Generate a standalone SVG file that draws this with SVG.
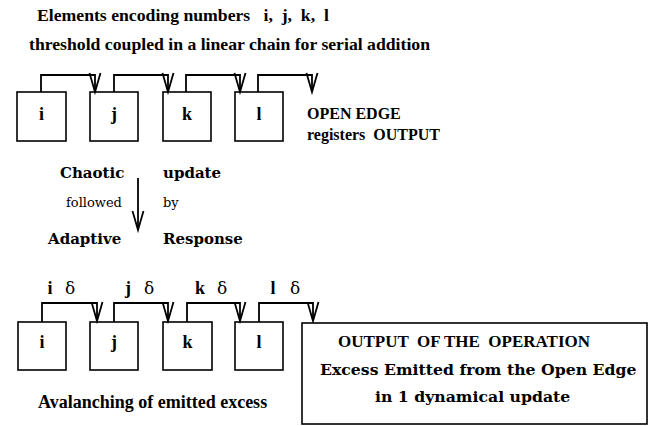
<svg xmlns="http://www.w3.org/2000/svg" width="654" height="426" viewBox="0 0 654 426">
<style>
text{white-space:pre}
.box{fill:#fff;stroke:#000;stroke-width:1.6}
.c{fill:none;stroke:#000;stroke-width:1.8;marker-end:url(#v)}
.t{font-family:"Liberation Serif","Times New Roman",serif;font-weight:bold;font-size:17.7px;fill:#000}
.cb{font-family:"DejaVu Serif",serif;font-weight:bold;font-size:15px;fill:#000}
.cr{font-family:"DejaVu Serif",serif;font-size:13px;fill:#000}
.lbl{font-family:"Liberation Serif","Times New Roman",serif;font-weight:bold;font-size:18px;fill:#000;text-anchor:middle}
.d{font-family:"DejaVu Serif",serif;font-size:17px;fill:#000;text-anchor:middle}
</style>
<defs>
<marker id="v" markerUnits="userSpaceOnUse" markerWidth="30" markerHeight="30" refX="0" refY="0" orient="auto" overflow="visible" viewBox="-20 -10 30 20">
<path d="M-19,-5.5 L0,0 L-19,5.5" fill="none" stroke="#000" stroke-width="1.8"/>
</marker>
</defs>
<g id="titles">
<text class="t" x="37" y="21" xml:space="preserve">Elements encoding numbers   i,  j,  k,  l</text>
<text class="t" x="29" y="50">threshold coupled in a linear chain for serial addition</text>
</g>
<g id="top-i"><rect class="box" x="17" y="92" width="49" height="49"/><text class="lbl" x="41.5" y="120">i</text></g>
<g id="top-j"><rect class="box" x="90" y="92" width="48" height="49"/><text class="lbl" x="114" y="120">j</text></g>
<g id="top-k"><rect class="box" x="163" y="92" width="48" height="49"/><text class="lbl" x="187" y="120">k</text></g>
<g id="top-l"><rect class="box" x="235" y="92" width="48" height="49"/><text class="lbl" x="259" y="120">l</text></g>
<g id="open-edge">
<text class="t" x="307" y="119" style="font-size:16px">OPEN EDGE</text>
<text class="t" x="307" y="140" style="font-size:16px" xml:space="preserve">registers  OUTPUT</text>
</g>
<g id="top-connectors">
<path class="c" d="M41,92 V75 H95 V92"/>
<path class="c" d="M114,92 V75 H168 V92"/>
<path class="c" d="M186,92 V75 H240 V92"/>
<path class="c" d="M258,92 V75 H312 V92"/>
</g>
<g id="update">
<text class="cb" x="60" y="178">Chaotic</text>
<text class="cb" x="163" y="178">update</text>
<text class="cr" x="66" y="207">followed</text>
<text class="cr" x="163" y="207">by</text>
<text class="cb" x="48" y="244">Adaptive</text>
<text class="cb" x="163" y="244">Response</text>
<path class="c" d="M138,178 V230"/>
</g>
<g id="delta-labels">
<text class="lbl" x="50" y="294">i</text><text class="d" x="70" y="294">δ</text>
<text class="lbl" x="128" y="294">j</text><text class="d" x="149" y="294">δ</text>
<text class="lbl" x="200" y="294">k</text><text class="d" x="222" y="294">δ</text>
<text class="lbl" x="273" y="294">l</text><text class="d" x="295" y="294">δ</text>
</g>
<g id="bot-i"><rect class="box" x="18" y="322" width="48" height="48"/><text class="lbl" x="42" y="348">i</text></g>
<g id="bot-j"><rect class="box" x="90" y="322" width="48" height="48"/><text class="lbl" x="114" y="348">j</text></g>
<g id="bot-k"><rect class="box" x="163" y="322" width="49" height="48"/><text class="lbl" x="187.5" y="348">k</text></g>
<g id="bot-l"><rect class="box" x="235" y="322" width="48" height="48"/><text class="lbl" x="259" y="348">l</text></g>
<g id="bottom-connectors">
<path class="c" d="M42,322 V303 H97 V321"/>
<path class="c" d="M114,322 V303 H168 V321"/>
<path class="c" d="M187,322 V303 H240 V321"/>
<path class="c" d="M259,322 V303 H313 V321"/>
</g>
<text class="t" x="38" y="408" style="font-size:18px">Avalanching of emitted excess</text>
<g id="output">
<rect class="box" x="302" y="323" width="345" height="101"/>
<text class="t" x="338" y="347" style="font-size:17px" xml:space="preserve">OUTPUT  OF THE  OPERATION</text>
<text class="cb" x="320" y="375" style="font-size:15.7px">Excess Emitted from the Open Edge</text>
<text class="cb" x="375" y="402" style="font-size:15.7px">in 1 dynamical update</text>
</g>
</svg>
